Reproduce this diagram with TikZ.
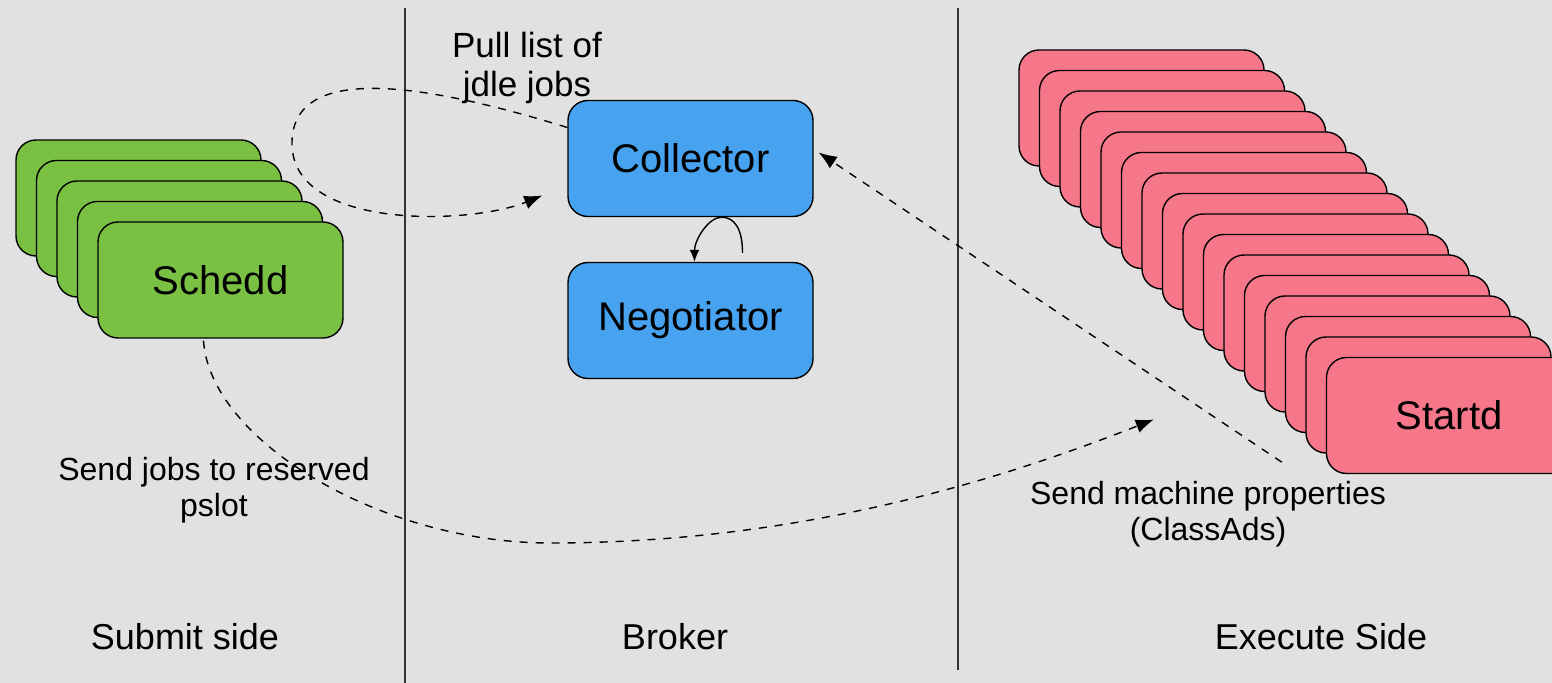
\documentclass[tikz,border=0pt]{standalone}
\usepackage{fontspec}
\setmainfont{Liberation Sans}
\usetikzlibrary{arrows.meta}
\usetikzlibrary{calc}

\definecolor{panelgray}{HTML}{E1E1E1}
\definecolor{scheddgreen}{HTML}{7AC143}
\definecolor{brokerblue}{HTML}{47A3F0}
\definecolor{startdpink}{HTML}{F7778A}

\begin{document}
\begin{tikzpicture}[x=0.5pt, y=-0.5pt,
    daemon/.style={draw=black, line width=0.7pt, rounded corners=10pt, minimum width=122.5pt, minimum height=58pt, inner sep=0pt, font=\fontsize{20}{24}\selectfont},
    msg/.style={line width=0.7pt, dash pattern=on 4pt off 4pt, -{Latex[length=9pt,width=7pt]}},
    note/.style={align=center, inner sep=0pt, font=\fontsize{16}{18}\selectfont},
    side/.style={inner sep=0pt, font=\fontsize{18}{22}\selectfont}]
    \useasboundingbox (0, 0) rectangle (1552, 683);
    \fill[panelgray] (0, 0) rectangle (1552, 683);
    \draw[line width=0.6pt, black!80] (405, 8) -- (405, 683);
    \draw[line width=0.6pt, black!80] (958, 8) -- (958, 670);

    % submit side
    \foreach \i in {0,...,3}
        \node[daemon, fill=scheddgreen] at ({138.5+20.5*\i}, {198+20.5*\i}) {};
    \node[daemon, fill=scheddgreen] (schedd) at (220.5, 280) {Schedd};

    % broker
    \node[daemon, fill=brokerblue] (collector) at (690.5, 158.5) {Collector};
    \node[daemon, fill=brokerblue] (negotiator) at (690.5, 320.5) {Negotiator};

    % execute side
    \foreach \i in {0,...,14}
        \node[daemon, fill=startdpink] at ({1141.5+20.5*\i}, {108+20.5*\i}) {};
    \node[daemon, fill=startdpink] (startd) at (1449, 415.5) {Startd};

    \node[note, font=\fontsize{17.5}{19.5}\selectfont] (pull) at (527, 68) {Pull list of\\jdle jobs};
    \node[note] (sendjobs) at (214, 490) {Send jobs to reserved\\pslot};
    \node[note] (sendprops) at (1208, 514) {Send machine properties\\(ClassAds)};

    \node[side] (submitside) at (185, 637) {Submit side};
    \node[side] (broker) at (675, 637) {Broker};
    \node[side] (executeside) at (1321, 637) {Execute Side};

    \coordinate (pulltip) at ($(collector.west)+(-25, 37)$);
    \coordinate (jobstip) at ($(startd.west)+(-172, 4)$);

    \draw[msg] ($(collector.west)+(0, -31)$) .. controls (430, 85) and (290, 60) .. (292, 145)
        .. controls (294, 230) and (470, 225) .. (pulltip);
    \draw[line width=0.7pt, -{Latex[length=6pt,width=5pt]}] ($(negotiator.north)+(52, -9)$)
        .. controls +(0, -24) and +(13, 0) .. ($(collector.south)+(31, 0)$)
        .. controls +(-13, 0) and +(0, -22) .. ($(negotiator.north)+(4, 0)$);
    \draw[msg] ($(startd.south west)+(-44, -12)$) -- ($(collector.east)+(5, -6)$);
    \draw[msg] ($(schedd.south)+(-17, 2)$) .. controls (210, 440) and (380, 543) .. (550, 543)
        .. controls (800, 543) and (1000, 480) .. (jobstip);
\end{tikzpicture}
\end{document}
